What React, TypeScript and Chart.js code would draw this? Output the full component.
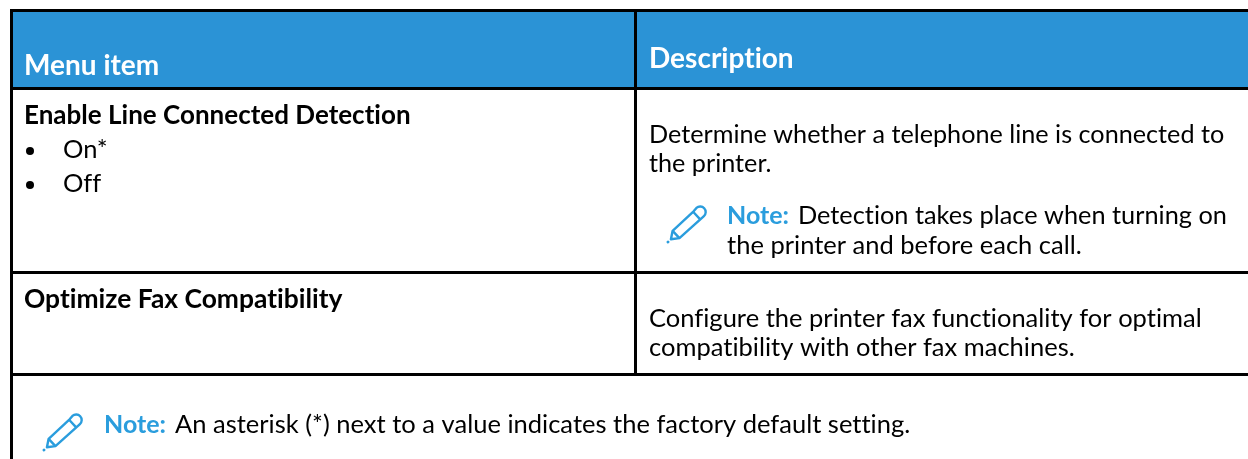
import React, { useEffect, useRef } from "react";
import { Chart, registerables } from "chart.js";

Chart.register(...registerables);

const headers = ["Menu item", "Description"];
const menuItems = ["Enable Line Connected Detection", "Optimize Fax Compatibility"];
const menuOptions = ["On*", "Off"];
const rowOneDescription = ["Determine whether a telephone line is connected to", "the printer."];
const rowOneNote = ["Detection takes place when turning on", "the printer and before each call."];
const rowTwoDescription = ["Configure the printer fax functionality for optimal", "compatibility with other fax machines."];
const noteLabel = "Note:";
const footerNote = "An asterisk (*) next to a value indicates the factory default setting.";

const WIDTH = 1248;
const HEIGHT = 459;
const BLUE = "#2b93d6";
const NOTE_BLUE = "#2a9ddd";
const FAMILY = '"Lato", "Open Sans", sans-serif';
const SIZE = 25.5;

type Txt = { t: string; x: number; y: number; bold?: boolean; color?: string; size?: number };

const texts: Txt[] = [
  { t: headers[0], x: 24, y: 75, color: "#ffffff", bold: true, size: 28 },
  { t: headers[1], x: 649, y: 68, color: "#ffffff", bold: true, size: 28 },
  { t: menuItems[0], x: 24, y: 124, bold: true, size: 26 },
  { t: menuOptions[0], x: 63, y: 158 },
  { t: menuOptions[1], x: 63, y: 192 },
  { t: rowOneDescription[0], x: 649, y: 143, size: 25.2 },
  { t: rowOneDescription[1], x: 649, y: 172, size: 25.2 },
  { t: noteLabel, x: 727, y: 224, bold: true, color: NOTE_BLUE, size: 25 },
  { t: rowOneNote[0], x: 798, y: 224, size: 25.3 },
  { t: rowOneNote[1], x: 727, y: 254 },
  { t: menuItems[1], x: 24, y: 308, bold: true, size: 26.4 },
  { t: rowTwoDescription[0], x: 649, y: 327 },
  { t: rowTwoDescription[1], x: 649, y: 356 },
  { t: noteLabel, x: 104, y: 433, bold: true, color: NOTE_BLUE, size: 25 },
  { t: footerNote, x: 175, y: 433 },
];

// [x1, y1, x2, y2] of each table rule, in the page's pixel units
const rules = [
  [10, 10.5, 1248, 10.5],
  [10, 88.5, 1248, 88.5],
  [10, 272.5, 1248, 272.5],
  [10, 374.5, 1248, 374.5],
  [11.5, 9, 11.5, 459],
  [635.5, 9, 635.5, 375],
];

const bullets = [[26, 151], [26, 185]];
const pencils = [[668, 242], [44, 450]];

const tablePlugin = {
  id: "table",
  beforeDatasetsDraw(chart: any) {
    const { ctx, scales } = chart;
    const X = (v: number) => scales.x.getPixelForValue(v);
    const Y = (v: number) => scales.y.getPixelForValue(v);
    ctx.save();
    ctx.fillStyle = "#ffffff";
    ctx.fillRect(0, 0, WIDTH, HEIGHT);
    ctx.fillStyle = BLUE;
    ctx.fillRect(X(10), Y(10), X(1248) - X(10), Y(88) - Y(10));

    ctx.strokeStyle = "#000000";
    ctx.lineWidth = 3;
    for (const [a, b, c, d] of rules) {
      ctx.beginPath();
      ctx.moveTo(X(a), Y(b));
      ctx.lineTo(X(c), Y(d));
      ctx.stroke();
    }

    ctx.fillStyle = "#000000";
    for (const [x, y] of bullets) {
      ctx.beginPath();
      ctx.arc(X(x + 4), Y(y), 4, 0, Math.PI * 2);
      ctx.fill();
    }

    ctx.textBaseline = "alphabetic";
    (ctx as any).letterSpacing = "0.01px";
    for (const item of texts) {
      ctx.font = `${item.bold ? "700" : "400"} ${item.size ?? SIZE}px ${FAMILY}`;
      ctx.fillStyle = item.color ?? "#000000";
      ctx.fillText(item.t, X(item.x), Y(item.y));
    }

    for (const [x, y] of pencils) {
      ctx.save();
      ctx.translate(X(x), Y(y));
      ctx.rotate((-43 * Math.PI) / 180);
      ctx.strokeStyle = NOTE_BLUE;
      ctx.fillStyle = NOTE_BLUE;
      ctx.lineWidth = 2.4;
      ctx.lineJoin = "round";
      ctx.beginPath();
      ctx.arc(0, 0, 1.5, 0, Math.PI * 2);
      ctx.fill();
      ctx.beginPath();
      ctx.moveTo(4, 0);
      ctx.lineTo(11, -5);
      ctx.lineTo(40, -5);
      ctx.arc(44, 0, 5.5, -Math.PI / 2, Math.PI / 2);
      ctx.lineTo(11, 5);
      ctx.closePath();
      ctx.stroke();
      ctx.beginPath();
      ctx.moveTo(11, -5);
      ctx.lineTo(11, 5);
      ctx.moveTo(39, -5);
      ctx.lineTo(39, 5);
      ctx.stroke();
      ctx.restore();
    }
    ctx.restore();
  },
};

export default function App() {
  const ref = useRef<HTMLCanvasElement>(null);
  useEffect(() => {
    document.body.style.margin = "0";
    const chart = new Chart(ref.current!, {
      type: "scatter",
      data: { datasets: [] },
      options: {
        animation: false,
        responsive: false,
        layout: { padding: 0 },
        plugins: { legend: { display: false }, tooltip: { enabled: false } },
        scales: {
          x: { type: "linear", min: 0, max: WIDTH, display: false },
          y: { type: "linear", min: 0, max: HEIGHT, reverse: true, display: false },
        },
      },
      plugins: [tablePlugin],
    });
    return () => chart.destroy();
  }, []);
  return <canvas ref={ref} width={WIDTH} height={HEIGHT} style={{ display: "block" }} />;
}
